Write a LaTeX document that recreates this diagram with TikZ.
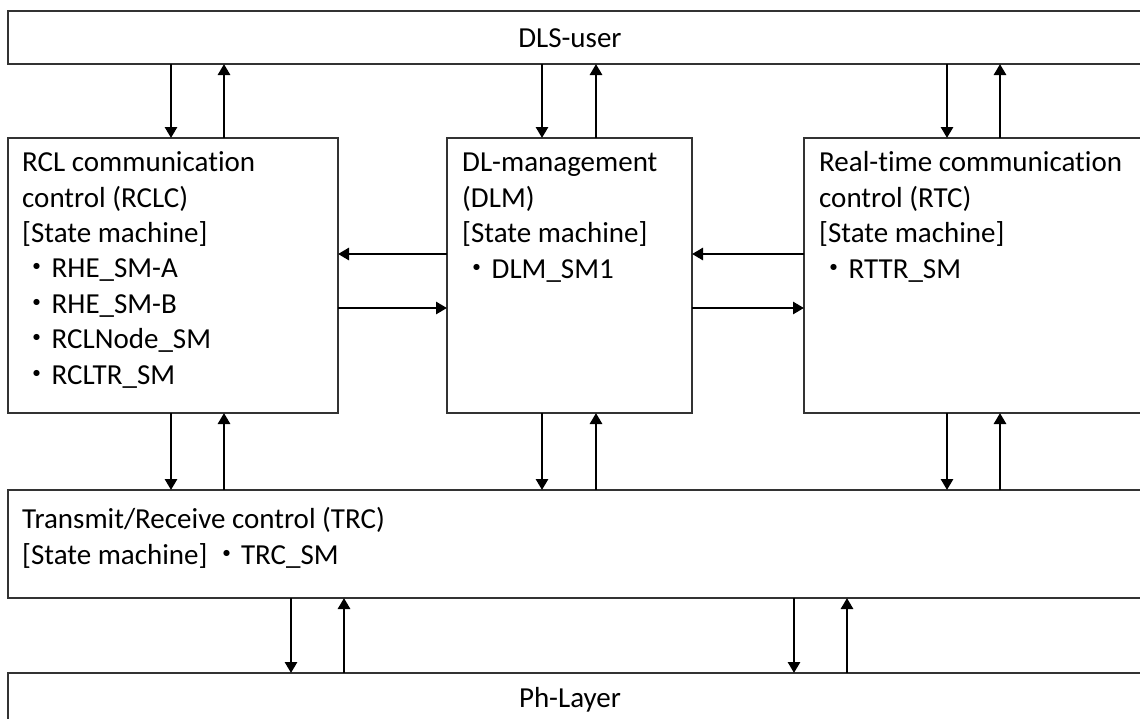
\documentclass[tikz,border=0pt]{standalone}
\usepackage{fontspec}
\setmainfont{Carlito}[Ligatures=NoCommon]
\newfontfamily\cjk{Noto Sans CJK JP}
\usetikzlibrary{arrows.meta,calc}
\newcommand{\bul}{\hspace*{0.5pt}{\cjk ・}}
\newcommand{\stm}{{[}State machine{]}}
\begin{document}
\begin{tikzpicture}[x=1pt,y=-1pt,
  box/.style={draw=black!80,line width=1.3pt,anchor=north west,inner sep=0pt,outer sep=0pt},
  txt/.style={anchor=base west,inner sep=0pt,align=left,font=\fontsize{29}{35.4}\selectfont},
  ctxt/.style={anchor=base,inner sep=0pt,font=\fontsize{29}{35.4}\selectfont},
  arr/.style={line width=2.8pt,-{Triangle[width=12pt,length=11pt]}}]
\useasboundingbox (0,0) rectangle (1140,718);
\clip (0,0) rectangle (1140,718);
% boxes
\node[box,minimum width=1150pt,minimum height=53pt] (user) at (8,11) {};
\node[box,minimum width=330pt,minimum height=275pt] (rclc) at (8,138) {};
\node[box,minimum width=245pt,minimum height=275pt] (dlm) at (447,138) {};
\node[box,minimum width=350pt,minimum height=275pt] (rtc) at (804,138) {};
\node[box,minimum width=1150pt,minimum height=108pt] (trc) at (8,490) {};
\node[box,minimum width=1150pt,minimum height=60pt] (ph) at (8,673) {};
% texts (anchor = baseline of last line)
\node[ctxt] (tuser) at (570,47) {DLS-user};
\node[txt] (trclc) at (22,384) {RCL communication\\control (RCLC)\\\stm\\\bul RHE\_SM-A\\\bul RHE\_SM-B\\\bul RCLNode\_SM\\\bul RCLTR\_SM};
\node[txt] (tdlm) at (462,278) {DL-management\\(DLM)\\\stm\\\bul DLM\_SM1};
\node[txt] (trtc) at (819,278) {Real-time communication\\control (RTC)\\\stm\\\bul RTTR\_SM};
\node[txt] (ttrc) at (22,564) {Transmit/Receive control (TRC)\\\stm\hspace{4pt}\bul TRC\_SM};
\node[ctxt] (tph) at (570,707) {Ph-Layer};
% vertical connector x positions
\coordinate (a1) at (171,0); \coordinate (a2) at (224,0);
\coordinate (b1) at (542,0); \coordinate (b2) at (596,0);
\coordinate (c1) at (947,0); \coordinate (c2) at (1000,0);
\coordinate (d1) at (291,0); \coordinate (d2) at (344,0);
\coordinate (e1) at (794,0); \coordinate (e2) at (847,0);
\coordinate (h1) at (0,254); \coordinate (h2) at (0,308);
% user <-> middle layer
\draw[arr] (a1 |- user.south) -- (a1 |- rclc.north);
\draw[arr] (a2 |- rclc.north) -- (a2 |- user.south);
\draw[arr] (b1 |- user.south) -- (b1 |- dlm.north);
\draw[arr] (b2 |- dlm.north) -- (b2 |- user.south);
\draw[arr] (c1 |- user.south) -- (c1 |- rtc.north);
\draw[arr] (c2 |- rtc.north) -- (c2 |- user.south);
% middle layer <-> trc
\draw[arr] (a1 |- rclc.south) -- (a1 |- trc.north);
\draw[arr] (a2 |- trc.north) -- (a2 |- rclc.south);
\draw[arr] (b1 |- dlm.south) -- (b1 |- trc.north);
\draw[arr] (b2 |- trc.north) -- (b2 |- dlm.south);
\draw[arr] (c1 |- rtc.south) -- (c1 |- trc.north);
\draw[arr] (c2 |- trc.north) -- (c2 |- rtc.south);
% horizontal
\draw[arr] (dlm.west |- h1) -- (rclc.east |- h1);
\draw[arr] (rclc.east |- h2) -- (dlm.west |- h2);
\draw[arr] (rtc.west |- h1) -- (dlm.east |- h1);
\draw[arr] (dlm.east |- h2) -- (rtc.west |- h2);
% trc <-> ph
\draw[arr] (d1 |- trc.south) -- (d1 |- ph.north);
\draw[arr] (d2 |- ph.north) -- (d2 |- trc.south);
\draw[arr] (e1 |- trc.south) -- (e1 |- ph.north);
\draw[arr] (e2 |- ph.north) -- (e2 |- trc.south);
\end{tikzpicture}
\end{document}
